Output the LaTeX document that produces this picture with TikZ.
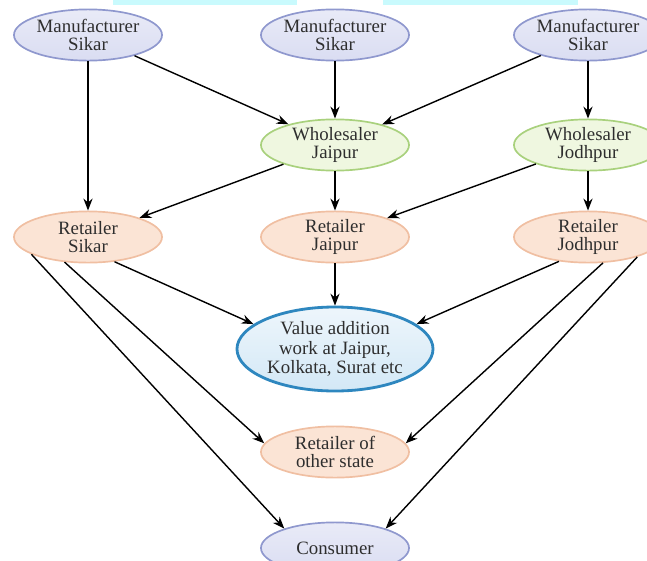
\documentclass[tikz,border=0pt]{standalone}
\usepackage{fontspec}
\setmainfont{Liberation Serif}
\usetikzlibrary{arrows,arrows.meta,shapes}
\definecolor{mfill}{HTML}{DADDF2}
\definecolor{mline}{HTML}{8F98CE}
\definecolor{wfill}{HTML}{EFF7E0}
\definecolor{wline}{HTML}{A9D17D}
\definecolor{rfill}{HTML}{FBE4D5}
\definecolor{rline}{HTML}{F0BFA2}
\definecolor{vfill}{HTML}{D3E8F6}
\definecolor{vline}{HTML}{2E87BF}
\definecolor{band}{HTML}{C9FAFD}
\definecolor{txt}{HTML}{2E2E2E}

\begin{document}
\begin{tikzpicture}[x=0.025cm,y=-0.025cm,>={Stealth[length=8.5pt,width=6.5pt]},
  box/.style={ellipse,draw,line width=1.2pt,minimum width=3.7cm,minimum height=1.28cm,
    inner sep=0pt,align=center,text=txt,font=\fontsize{13.4}{13}\selectfont},
  maker/.style={box,draw=mline,top color=mfill!60,bottom color=mfill},
  whole/.style={box,draw=wline,fill=wfill},
  retail/.style={box,draw=rline,fill=rfill},
  valuebox/.style={box,draw=vline,line width=2pt,top color=vfill!40,bottom color=vfill,
    minimum width=4.9cm,minimum height=2.1cm,font=\fontsize{13.4}{13.6}\selectfont},
  flow/.style={->,line width=1pt}]
\useasboundingbox (0,0) rectangle (647,561);
\clip (0,0) rectangle (647,561);
% strip along the top
\fill[band] (113,0) rectangle (297,5);
\fill[band] (383,0) rectangle (578,5);

% manufacturers
\node[maker] (m1) at (88,35) {Manufacturer\\Sikar};
\node[maker] (m2) at (335,35) {Manufacturer\\Sikar};
\node[maker] (m3) at (588,35) {Manufacturer\\Sikar};
% wholesalers
\node[whole] (wjai) at (335,145) {Wholesaler\\Jaipur};
\node[whole] (wjod) at (588,145) {Wholesaler\\Jodhpur};
% retailers
\node[retail] (rsik) at (88,237) {Retailer\\Sikar};
\node[retail] (rjai) at (335,237) {Retailer\\Jaipur};
\node[retail] (rjod) at (588,237) {Retailer\\Jodhpur};
\node[valuebox] (val) at (335,349) {Value addition\\work at Jaipur,\\Kolkata, Surat etc};
\node[retail] (oth) at (335,452) {Retailer of\\other state};
\node[maker] (con) at (335,548) {Consumer};

\draw[flow] (m1) -- (rsik);
\draw[flow] (m1) -- (wjai);
\draw[flow] (m2) -- (wjai);
\draw[flow] (m3) -- (wjai);
\draw[flow] (m3) -- (wjod);
\draw[flow] (wjai) -- (rsik);
\draw[flow] (wjai) -- (rjai);
\draw[flow] (wjod) -- (rjai);
\draw[flow] (wjod) -- (rjod);
\draw[flow] (rjai) -- (val);
%  left fan
\draw[flow] (rsik.317) -- (val.163);
\draw[flow] (rsik.227) -- (oth.173);
\draw[flow] (rsik.197) -- (con.159);
%  right fan
\draw[flow] (rjod.220) -- (val.17);
\draw[flow] (rjod.300) -- (oth.7);
\draw[flow] (rjod.338) -- (con.21);
\end{tikzpicture}
\end{document}
